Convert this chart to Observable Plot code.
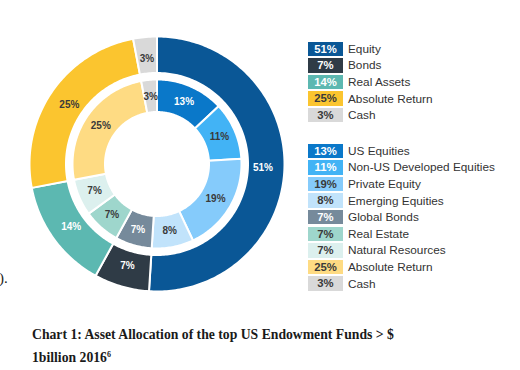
<!DOCTYPE html>
<html>
<head>
<meta charset="utf-8">
<script src="https://cdn.jsdelivr.net/npm/d3@7"></script>
<script src="https://cdn.jsdelivr.net/npm/@observablehq/plot@0.6"></script>
<style>
  html, body { margin: 0; padding: 0; background: #fff; }
  #wrap { position: relative; width: 520px; height: 370px; overflow: hidden; }
  #chart { position: absolute; left: 0; top: 0; }
  .legend { position: absolute; left: 308px; font-family: "Liberation Sans", Arial, sans-serif; }
  .row { display: flex; align-items: center; height: 16.6px; }
  .box { width: 35px; height: 14.5px; line-height: 14.5px; text-align: center; font-size: 11.3px; font-weight: bold; margin-right: 5px; box-sizing: border-box; }
  .lab { font-size: 11.8px; color: #333; }
  #caption { position: absolute; left: 32px; top: 325px; font-family: "Liberation Serif", "Times New Roman", serif; font-weight: bold; font-size: 13.7px; line-height: 19.5px; color: #1a1a1a; }
  #caption sup { font-size: 8px; vertical-align: 5px; }
  #frag { position: absolute; left: -1px; top: 270px; font-family: "Liberation Serif", serif; font-size: 15px; color: #222; }
</style>
</head>
<body>
<div id="wrap">
  <div id="chart"></div>
  <div id="frag">).</div>
  <div class="legend" id="leg1" style="top:40.5px"></div>
  <div class="legend" id="leg2" style="top:142.5px"></div>
  <div id="caption">Chart 1: Asset Allocation of the top US Endowment Funds &gt; $<br>1billion 2016<sup>6</sup></div>
</div>
<script>
// ---- Data ----
const outerNames  = ["Equity", "Bonds", "Real Assets", "Absolute Return", "Cash"];
const outerValues = [51, 7, 14, 25, 3];
const outerColors = ["#0a5796", "#2f3b46", "#5cb8b1", "#fbc52f", "#d9d9d9"];
const outerText   = ["#ffffff", "#ffffff", "#ffffff", "#3a3a3a", "#3a3a3a"];

const innerNames  = ["US Equities", "Non-US Developed Equities", "Private Equity", "Emerging Equities",
                     "Global Bonds", "Real Estate", "Natural Resources", "Absolute Return", "Cash"];
const innerValues = [13, 11, 19, 8, 7, 7, 7, 25, 3];
const innerColors = ["#0a78c9", "#42b3f5", "#85cbfb", "#c1e3fb", "#768a9b", "#9ed6cc", "#dcf0ee", "#fedb83", "#d9d9d9"];
const innerText   = ["#ffffff", "#3a3a3a", "#3a3a3a", "#3a3a3a", "#ffffff", "#3a3a3a", "#3a3a3a", "#3a3a3a", "#3a3a3a"];
const innerLegendText = ["#ffffff", "#ffffff", "#3a3a3a", "#3a3a3a", "#ffffff", "#3a3a3a", "#3a3a3a", "#3a3a3a", "#3a3a3a"];

// ---- Geometry (radii relative to outer radius) ----
const cx = 156.5, cy = 163.5, R = 127.5;
const rings = [
  {key: "o", names: outerNames, values: outerValues, colors: outerColors, text: outerText, r0: 91 / R, r1: 1, lr: 106 / R},
  {key: "i", names: innerNames, values: innerValues, colors: innerColors, text: innerText, r0: 52 / R, r1: 84.5 / R, lr: 68 / R}
];

const polys = [];
const labels = [];
for (const ring of rings) {
  const total = d3.sum(ring.values);
  let acc = 0;
  ring.values.forEach((v, i) => {
    const a0 = acc / total * 2 * Math.PI;
    acc += v;
    const a1 = acc / total * 2 * Math.PI;
    const n = Math.max(2, Math.ceil((a1 - a0) / (Math.PI / 180)));
    const key = ring.key + i;
    for (let k = 0; k <= n; k++) {
      const a = a0 + (a1 - a0) * k / n;
      polys.push({key, color: ring.colors[i], x: ring.r1 * Math.sin(a), y: ring.r1 * Math.cos(a)});
    }
    for (let k = n; k >= 0; k--) {
      const a = a0 + (a1 - a0) * k / n;
      polys.push({key, color: ring.colors[i], x: ring.r0 * Math.sin(a), y: ring.r0 * Math.cos(a)});
    }
    const am = (a0 + a1) / 2;
    labels.push({x: ring.lr * Math.sin(am), y: ring.lr * Math.cos(am), text: v + "%", color: ring.text[i]});
  });
}

const chart = Plot.plot({
  width: 300,
  height: 300,
  margin: 0,
  x: {domain: [-1, 1], range: [cx - R, cx + R], axis: null},
  y: {domain: [-1, 1], range: [cy + R, cy - R], axis: null},
  color: {type: "identity"},
  style: {background: "transparent"},
  marks: [
    Plot.line(polys, {x: "x", y: "y", z: "key", fill: "color", stroke: "white", strokeWidth: 2, curve: "linear-closed"}),
    Plot.text(labels, {x: "x", y: "y", text: "text", fill: "color", fontWeight: "bold", fontSize: 10,
      fontFamily: "Liberation Sans, Arial, sans-serif"})
  ]
});
document.getElementById("chart").appendChild(chart);

// ---- Legends ----
function legend(el, names, values, colors, textColors) {
  names.forEach((nm, i) => {
    const row = document.createElement("div");
    row.className = "row";
    const box = document.createElement("div");
    box.className = "box";
    box.style.background = colors[i];
    box.style.color = textColors[i];
    box.textContent = values[i] + "%";
    const lab = document.createElement("div");
    lab.className = "lab";
    lab.textContent = nm;
    row.appendChild(box);
    row.appendChild(lab);
    el.appendChild(row);
  });
}
legend(document.getElementById("leg1"), outerNames, outerValues, outerColors, ["#ffffff", "#ffffff", "#ffffff", "#3a3a3a", "#3a3a3a"]);
legend(document.getElementById("leg2"), innerNames, innerValues, innerColors, innerLegendText);
</script>
</body>
</html>
